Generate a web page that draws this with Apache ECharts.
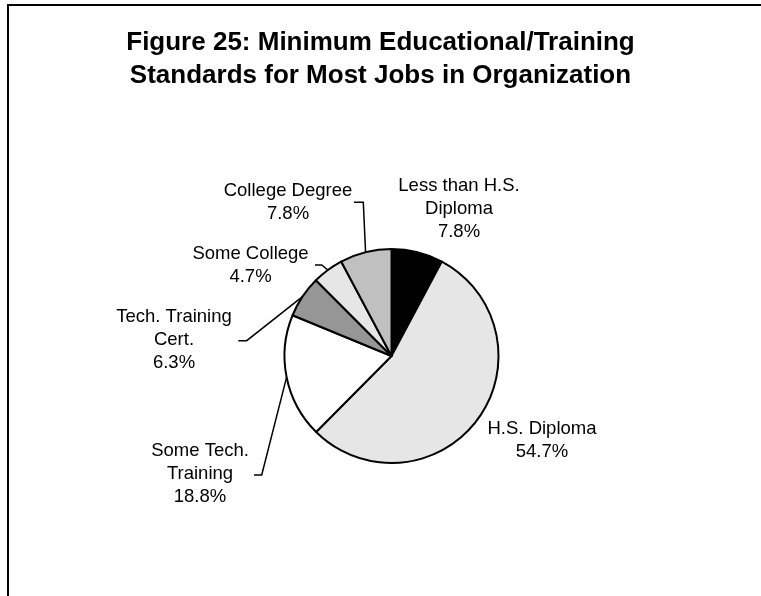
<!DOCTYPE html>
<html>
<head>
<meta charset="utf-8">
<script src="https://cdn.jsdelivr.net/npm/echarts@6/dist/echarts.min.js"></script>
<style>
  html, body { margin: 0; padding: 0; background: #ffffff; }
  #chart { width: 761px; height: 596px; }
</style>
</head>
<body>
<div id="chart"></div>
<script>
// Survey categories (clockwise from 12 o'clock) and their shares in percent
const categories = [
  'Less than H.S.\nDiploma',
  'H.S. Diploma',
  'Some Tech.\nTraining',
  'Tech. Training\nCert.',
  'Some College',
  'College Degree'
];
const percentages = [7.8, 54.7, 18.8, 6.3, 4.7, 7.8];
const sliceColors = ['#000000', '#e6e6e6', '#ffffff', '#969696', '#e6e6e6', '#c0c0c0'];
const titleLines = [
  'Figure 25: Minimum Educational/Training',
  'Standards for Most Jobs in Organization'
];

const FONT = '"Liberation Sans", Arial, Helvetica, sans-serif';

// Where each label block sits (its centre) and the elbow/end of its leader line
const labelPlacement = [
  { x: 459,   y: 208.5, leader: null },
  { x: 542,   y: 440,   leader: null },
  { x: 200,   y: 474,   leader: [[261.7, 475], [254, 475]] },
  { x: 174,   y: 340,   leader: [[246.7, 340.7], [238.3, 340.7]] },
  { x: 250.5, y: 265,   leader: [[321.7, 265], [315, 265]] },
  { x: 288,   y: 202.5, leader: [[363.3, 202.3], [354, 202.3]] }
];

const PIE_CENTER = [391.5, 356];
const PIE_RADIUS = 107;

// Point on the rim at the middle of slice i (fallback if the library gives no guide points)
function rimPoint(i) {
  const total = percentages.reduce((a, b) => a + b, 0);
  let before = 0;
  for (let k = 0; k < i; k++) before += percentages[k];
  const mid = (before + percentages[i] / 2) / total * Math.PI * 2;
  return [PIE_CENTER[0] + PIE_RADIUS * Math.sin(mid), PIE_CENTER[1] - PIE_RADIUS * Math.cos(mid)];
}

const pieData = categories.map((name, i) => ({
  name: name,
  value: percentages[i],
  itemStyle: { color: sliceColors[i] },
  labelLine: { show: !!labelPlacement[i].leader }
}));

const chart = echarts.init(document.getElementById('chart'), null, { renderer: 'canvas' });

chart.setOption({
  animation: false,
  backgroundColor: '#ffffff',
  title: {
    text: titleLines.join('\n'),
    left: 'center',
    top: 26.5,
    padding: 0,
    textStyle: {
      fontFamily: FONT,
      fontSize: 26,
      fontWeight: 'bold',
      lineHeight: 33,
      color: '#000000'
    }
  },
  graphic: [
    // frame edges
    { type: 'rect', shape: { x: 7, y: 4, width: 754, height: 2 }, style: { fill: '#000000' }, silent: true },
    { type: 'rect', shape: { x: 7, y: 4, width: 2, height: 592 }, style: { fill: '#000000' }, silent: true }
  ],
  series: [{
    type: 'pie',
    center: PIE_CENTER,
    radius: PIE_RADIUS,
    startAngle: 90,
    clockwise: true,
    avoidLabelOverlap: false,
    silent: true,
    itemStyle: { borderColor: '#000000', borderWidth: 2 },
    label: {
      show: true,
      position: 'outside',
      fontFamily: FONT,
      fontSize: 18.5,
      lineHeight: 23,
      color: '#000000',
      align: 'center',
      formatter: p => p.name + '\n' + p.value.toFixed(1) + '%'
    },
    labelLine: {
      length: 10,
      length2: 10,
      lineStyle: { color: '#000000', width: 1.5 }
    },
    labelLayout: function (params) {
      const place = labelPlacement[params.dataIndex];
      const out = { x: place.x, y: place.y, align: 'center', verticalAlign: 'middle' };
      if (place.leader) {
        const start = (params.labelLinePoints && params.labelLinePoints[0])
          ? params.labelLinePoints[0].slice()
          : rimPoint(params.dataIndex);
        out.labelLinePoints = [start].concat(place.leader);
      }
      return out;
    },
    data: pieData
  }]
});
</script>
</body>
</html>
